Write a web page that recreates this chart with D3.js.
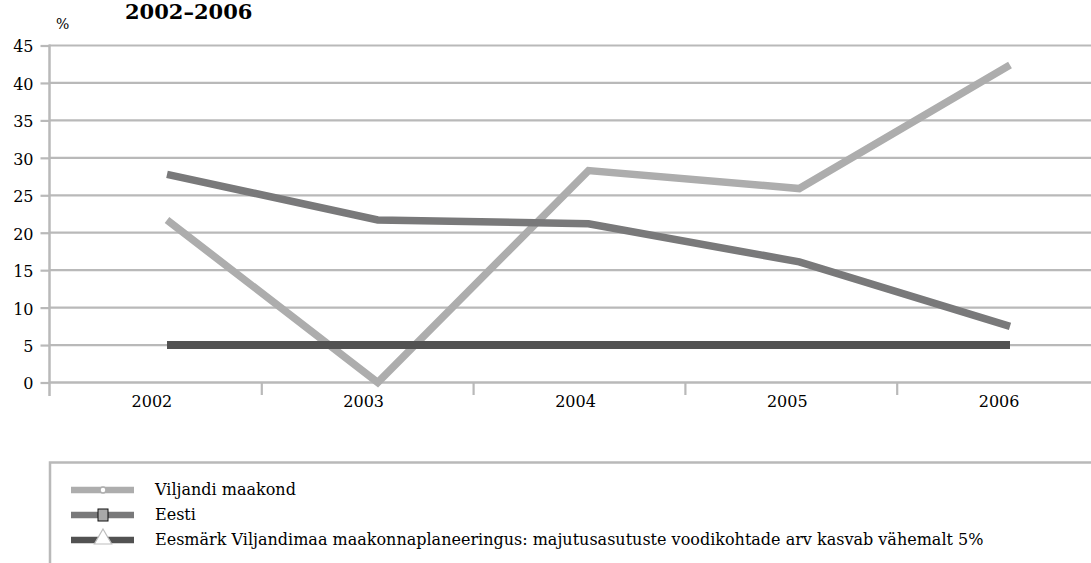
<!DOCTYPE html>
<html>
<head>
<meta charset="utf-8">
<script src="https://cdn.jsdelivr.net/npm/d3@7/dist/d3.min.js"></script>
<style>
  html, body { margin: 0; padding: 0; background: #fff; }
  svg { display: block; font-family: "DejaVu Serif", serif; }
</style>
</head>
<body>
<svg id="chart" width="1091" height="563"></svg>
<script>
// ---- data ----
const years = ["2002", "2003", "2004", "2005", "2006"];
const viljandi = [21.7, 0, 28.3, 25.9, 42.4];
const eesti = [27.8, 21.7, 21.2, 16.1, 7.5];
const target = [5, 5, 5, 5, 5];
const yTicks = [0, 5, 10, 15, 20, 25, 30, 35, 40, 45];
const seriesNames = [
  "Viljandi maakond",
  "Eesti",
  "Eesmärk Viljandimaa maakonnaplaneeringus: majutusasutuste voodikohtade arv kasvab vähemalt 5%"
];
const titleText = "2002–2006";
const unitText = "%";

// ---- setup ----
const svg = d3.select("#chart");
svg.append("rect").attr("width", 1091).attr("height", 563).attr("fill", "#fff");

const gridColor = "#b9b9b9";
const y = d3.scaleLinear().domain([0, 45]).range([382.5, 45.5]);
const xBand = d3.scaleBand().domain(years).range([50, 1109]).padding(0);
const xPt = d3.scalePoint().domain(years).range([167, 1010]);

// title & unit
svg.append("text").attr("x", 125).attr("y", 19)
  .attr("font-size", 21).attr("font-weight", "bold").attr("fill", "#000")
  .text(titleText);
svg.append("text").attr("x", 56).attr("y", 29)
  .attr("font-size", 14).attr("fill", "#000").text(unitText);

// gridlines
svg.append("g").selectAll("line").data(yTicks.filter(d => d > 0)).join("line")
  .attr("x1", 49).attr("x2", 1100)
  .attr("y1", d => y(d)).attr("y2", d => y(d))
  .attr("stroke", gridColor).attr("stroke-width", 2.2);

// y axis
const yAxis = d3.axisLeft(y).tickValues(yTicks).tickSize(9).tickPadding(7);
const gy = svg.append("g").attr("transform", "translate(49.5,0)").call(yAxis);
gy.select(".domain").remove();
gy.append("line").attr("x1", 0).attr("x2", 0).attr("y1", y(45) - 1).attr("y2", 396)
  .attr("stroke", gridColor).attr("stroke-width", 2.5);
gy.selectAll(".tick line").attr("stroke", gridColor).attr("stroke-width", 2.2);
gy.selectAll(".tick text").attr("font-size", 16).attr("fill", "#000")
  .attr("font-family", "DejaVu Serif, serif").attr("dy", "0.4em");

// x axis
svg.append("line").attr("x1", 49).attr("x2", 1100).attr("y1", y(0)).attr("y2", y(0))
  .attr("stroke", gridColor).attr("stroke-width", 2.5);
svg.append("g").selectAll("line").data(years.slice(1)).join("line")
  .attr("x1", d => xBand(d)).attr("x2", d => xBand(d))
  .attr("y1", y(0)).attr("y2", 395)
  .attr("stroke", gridColor).attr("stroke-width", 2.2);
svg.append("g").selectAll("text").data(years).join("text")
  .attr("x", d => xBand(d) + xBand.bandwidth() / 2 - 4)
  .attr("y", 407)
  .attr("text-anchor", "middle").attr("font-size", 16).attr("fill", "#000")
  .text(d => d);

// lines
const series = [
  { name: seriesNames[0], values: viljandi, color: "#adadad", width: 7.5 },
  { name: seriesNames[1], values: eesti, color: "#79797a", width: 7.5 },
  { name: seriesNames[2], values: target, color: "#525252", width: 8 }
];
const lineGen = d3.line().x((d, i) => xPt(years[i])).y(d => y(d));
series.forEach(s => {
  svg.append("path").datum(s.values)
    .attr("d", lineGen)
    .attr("fill", "none").attr("stroke", s.color)
    .attr("stroke-width", s.width)
    .attr("stroke-linejoin", "miter").attr("stroke-linecap", "butt");
});

// legend
svg.append("rect").attr("x", 50).attr("y", 462.5).attr("width", 1100).attr("height", 200)
  .attr("fill", "none").attr("stroke", gridColor).attr("stroke-width", 2.5);
const leg = svg.append("g");
const rowY = [490, 515, 540];
series.forEach((s, i) => {
  const g = leg.append("g").attr("transform", `translate(0,${rowY[i]})`);
  g.append("line").attr("x1", 71).attr("x2", 134).attr("y1", 0).attr("y2", 0)
    .attr("stroke", s.color).attr("stroke-width", 6.5);
  if (i === 0) {
    g.append("circle").attr("cx", 103).attr("cy", 0).attr("r", 3)
      .attr("fill", "#fff").attr("stroke", s.color).attr("stroke-width", 1.5);
  } else if (i === 1) {
    g.append("rect").attr("x", 98).attr("y", -6).attr("width", 10).attr("height", 12)
      .attr("fill", "#a9a9a9").attr("stroke", "#111").attr("stroke-width", 1);
  } else {
    g.append("path").attr("d", d3.symbol().type(d3.symbolTriangle).size(130)())
      .attr("transform", "translate(103,-1)")
      .attr("fill", "#fff").attr("stroke", "#bdbdbd").attr("stroke-width", 1.2);
  }
  g.append("text").attr("x", 155).attr("y", 0).attr("dy", "0.33em")
    .attr("font-size", 16).attr("fill", "#000").text(s.name);
});
</script>
</body>
</html>
